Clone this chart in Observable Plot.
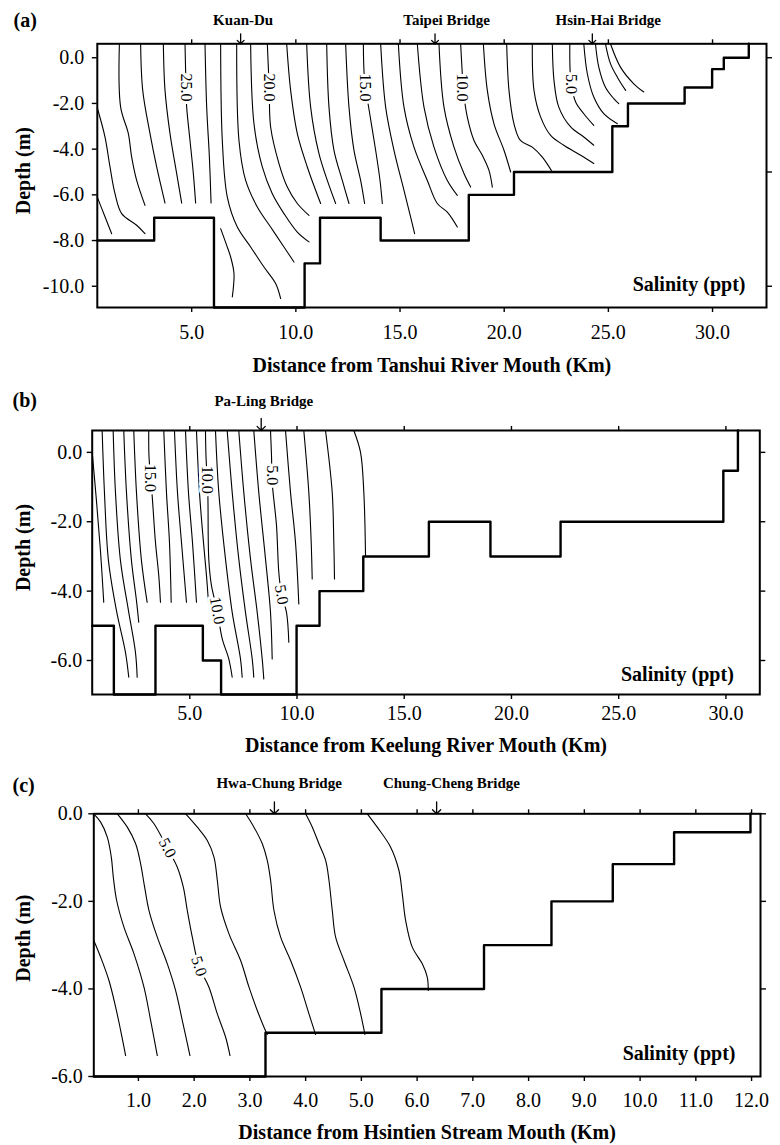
<!DOCTYPE html>
<html>
<head>
<meta charset="utf-8">
<script src="https://cdn.jsdelivr.net/npm/d3@7"></script>
<script src="https://cdn.jsdelivr.net/npm/@observablehq/plot@0.6"></script>
<style>
  html, body { margin: 0; padding: 0; background: #fff; }
  #fig { position: relative; width: 780px; height: 1145px; background: #fff; }
  #fig svg { position: absolute; left: 0; overflow: visible; }
</style>
</head>
<body>
<div id="fig"></div>
<script>
const SERIF = "'Liberation Serif', 'Times New Roman', Times, serif";

// ---------- (a) Tanshui River ----------
// Bed profile: station boundaries (km) and the depth (m) of each reach; null = deeper than the section floor
const tanshuiBedKm    = [0.47, 3.2, 6.07, 10.42, 11.16, 14.07, 18.3, 20.47, 25.19, 25.94, 28.66, 29.98, 30.54, 31.74];
const tanshuiBedDepth = [-8, -7, null, -9, -7, -8, -6, -5, -3, -2, -1.3, -0.5, 0.0];
// Isohalines, [km, depth m] pairs, one list per contour (30 ppt at the mouth down to 1 ppt)
const tanshuiContours = [
  [[0.47,-6.1],[0.83,-6.94],[1.16,-7.7]],
  [[0.47,-2.2],[0.84,-3.47],[1.08,-4.78],[1.32,-5.95],[1.64,-6.82],[2.36,-7.33],[2.76,-7.7]],
  [[1.53,0.61],[1.59,-2.16],[1.96,-3.32],[2.12,-4.35],[2.36,-5.37],[2.76,-6.46]],
  [[2.55,0.61],[2.65,-1.43],[3.0,-3.32],[3.32,-4.78],[3.72,-6.36]],
  [[3.64,0.61],[3.72,-1.43],[3.96,-3.32],[4.28,-5.07],[4.52,-6.36]],
  [[4.68,0.61],[4.72,-1.0],[4.76,-2.16],[4.92,-3.62],[5.08,-5.07],[5.19,-6.36]],
  [[5.64,0.61],[5.72,-2.16],[5.85,-4.35],[5.93,-6.36]],
  [[6.39,0.61],[6.47,-3.62],[6.71,-6.1],[7.19,-7.41],[7.83,-8.28],[8.47,-9.16],[9.03,-9.88],[9.27,-10.54]],
  [[6.39,-7.48],[6.68,-8.21],[6.87,-8.72],[7.03,-9.44],[6.95,-10.47]],
  [[7.16,0.61],[7.27,-3.62],[7.59,-5.37],[8.15,-6.53],[8.79,-7.41],[9.43,-8.28],[9.91,-8.94]],
  [[7.83,0.61],[7.99,-2.89],[8.39,-4.78],[8.87,-5.95],[9.43,-6.82],[10.07,-7.63],[10.63,-8.06]],
  [[8.63,0.61],[8.72,-1.3],[8.79,-3.03],[9.19,-4.63],[9.59,-5.66],[10.07,-6.38],[10.63,-6.9]],
  [[9.56,0.61],[9.75,-1.43],[10.07,-3.32],[10.55,-4.78],[10.95,-5.8],[11.19,-6.38]],
  [[10.52,0.61],[10.71,-2.16],[11.11,-4.2],[11.51,-5.37],[11.91,-6.38]],
  [[11.48,0.61],[11.59,-2.16],[11.83,-4.05],[12.23,-5.37],[12.55,-6.38]],
  [[12.39,0.61],[12.55,-2.16],[12.79,-4.05],[13.11,-5.37],[13.3,-6.38]],
  [[13.24,0.61],[13.3,-1.0],[13.5,-2.2],[13.83,-4.05],[14.04,-5.37],[14.15,-6.38]],
  [[14.07,0.61],[14.31,-2.16],[14.71,-4.05],[15.19,-5.8],[15.51,-6.97],[15.7,-7.7]],
  [[14.92,0.61],[15.19,-2.16],[15.67,-3.91],[16.31,-5.37],[16.79,-6.38],[17.27,-6.76],[17.75,-7.41]],
  [[15.83,0.61],[16.15,-2.16],[16.63,-3.91],[17.27,-5.37],[17.75,-6.02]],
  [[16.87,0.61],[17.11,-2.16],[17.59,-3.91],[18.07,-5.07],[18.39,-5.66]],
  [[17.91,0.61],[17.98,-0.56],[18.05,-1.5],[18.23,-2.6],[18.55,-3.62],[18.95,-4.27],[19.27,-4.93],[19.43,-5.66]],
  [[19.0,0.61],[19.19,-1.43],[19.51,-2.89],[19.99,-4.05],[20.31,-5.0]],
  [[20.12,0.61],[20.23,-1.43],[20.47,-2.89],[20.78,-3.62],[21.35,-3.91],[21.83,-4.35],[22.31,-5.0]],
  [[21.35,0.61],[21.43,-1.43],[21.75,-2.6],[22.23,-3.4],[22.86,-3.83],[23.67,-4.27],[24.3,-4.63]],
  [[22.31,0.61],[22.39,-0.99],[22.62,-2.16],[23.19,-3.03],[23.82,-3.47],[24.3,-3.83]],
  [[23.15,0.61],[23.2,-1.0],[23.43,-1.94],[23.82,-2.45],[24.3,-2.96]],
  [[23.82,0.61],[23.99,-0.7],[24.3,-1.72],[24.78,-2.45],[25.43,-2.89]],
  [[24.38,0.61],[24.54,-0.41],[24.86,-1.29],[25.26,-1.79],[25.5,-2.01]],
  [[24.86,0.61],[25.1,-0.26],[25.43,-0.85],[25.83,-1.43]],
  [[25.1,0.61],[25.58,-0.41],[26.22,-1.14],[26.7,-1.5]]
];
const tanshuiLabels = [
  {text: "25.0", km: 4.73, depth: -1.3, angle: 90},
  {text: "20.0", km: 8.72, depth: -1.3, angle: 90},
  {text: "15.0", km: 13.32, depth: -1.3, angle: 90},
  {text: "10.0", km: 18.0, depth: -1.3, angle: 90},
  {text: "5.0", km: 23.2, depth: -1.15, angle: 90}
];
const tanshuiBridges = [
  {name: "Kuan-Du", km: 7.35},
  {name: "Taipei Bridge", km: 16.68},
  {name: "Hsin-Hai Bridge", km: 24.23}
];
const tanshuiXTicks = [5, 10, 15, 20, 25, 30];
const tanshuiYTicks = [0, -2, -4, -6, -8, -10];
const tanshuiYRightTicks = [0, -5, -10];

// ---------- (b) Keelung River ----------
const keelungBedKm    = [0.45, 1.46, 3.4, 5.61, 6.46, 9.98, 11.05, 13.09, 16.15, 19.02, 22.29, 29.88, 30.56];
const keelungBedDepth = [-5, null, -5, -6, null, -5, -4, -3, -2, -3, -2, -0.53];
const keelungContours = [
  [[0.45,0.0],[0.648,-1.392],[0.835,-2.833],[0.989,-4.323]],
  [[0.914,0.63],[1.021,-1.153],[1.208,-3.121],[1.581,-4.562],[2.001,-5.764],[2.155,-6.484]],
  [[1.427,0.63],[1.535,-1.153],[1.768,-3.121],[2.141,-4.562],[2.467,-5.764],[2.547,-6.484]],
  [[1.922,0.63],[2.048,-1.153],[2.281,-3.121],[2.514,-4.275],[2.621,-4.899]],
  [[2.388,0.63],[2.514,-1.153],[2.747,-3.121],[3.013,-4.323]],
  [[3.088,0.63],[3.097,-0.095],[3.246,-1.248],[3.4,-2.594],[3.554,-3.553],[3.633,-4.323]],
  [[3.787,0.63],[3.913,-1.153],[4.053,-2.594],[4.133,-4.323]],
  [[4.286,0.63],[4.426,-1.153],[4.613,-2.594],[4.846,-4.323]],
  [[4.8,0.63],[4.939,-1.153],[5.126,-2.594],[5.312,-4.323]],
  [[5.312,0.63],[5.452,-1.153],[5.639,-2.594],[5.779,-3.553],[5.872,-4.323]],
  [[5.732,0.63],[5.756,-0.095],[5.84,-1.153],[5.886,-3.072],[6.012,-3.841],[6.28,-4.562],[6.511,-5.369],[6.819,-5.954],[6.978,-6.484]],
  [[6.199,0.63],[6.353,-1.153],[6.665,-3.072],[6.978,-4.611],[7.365,-5.954],[7.444,-6.484]],
  [[6.744,0.63],[6.978,-1.153],[7.285,-3.072],[7.598,-4.611],[7.911,-5.954],[7.985,-6.484]],
  [[7.285,0.63],[7.519,-1.153],[7.831,-3.072],[8.144,-4.611],[8.377,-5.954],[8.451,-6.53]],
  [[7.985,0.63],[8.218,-1.153],[8.531,-3.072],[8.764,-4.611],[8.843,-5.954]],
  [[8.764,0.63],[8.811,-0.095],[8.843,-0.865],[9.044,-2.112],[9.151,-3.458],[9.28,-4.1],[9.51,-4.611],[9.618,-5.476]],
  [[9.464,0.63],[9.697,-1.153],[9.93,-2.594],[10.084,-4.369]],
  [[10.317,0.63],[10.551,-1.153],[10.662,-2.594],[10.709,-3.648]],
  [[11.329,0.63],[11.642,-1.153],[11.716,-2.594],[11.749,-3.648]],
  [[12.649,0.63],[12.962,0.0],[13.116,-1.153],[13.195,-2.977]]
];
const keelungLabels = [
  {text: "15.0", km: 3.15, depth: -0.74, angle: 90},
  {text: "10.0", km: 5.8, depth: -0.79, angle: 90},
  {text: "5.0", km: 8.83, depth: -0.66, angle: 90},
  {text: "10.0", km: 6.28, depth: -4.56, angle: 80},
  {text: "5.0", km: 9.28, depth: -4.1, angle: 80}
];
const keelungBridges = [{name: "Pa-Ling Bridge", km: 8.33}];
const keelungXTicks = [5, 10, 15, 20, 25, 30];
const keelungYTicks = [0, -2, -4, -6];

// ---------- (c) Hsintien Stream ----------
const hsintienBedKm    = [0.2, 3.28, 5.36, 7.2, 8.41, 9.51, 10.61, 11.98];
const hsintienBedDepth = [null, -5, -4, -3, -2, -1.15, -0.42];
const hsintienContours = [
  [[0.2,-2.894],[0.323,-3.275],[0.472,-3.808],[0.592,-4.417],[0.682,-4.951],[0.771,-5.522]],
  [[0.2,0],[0.323,-0.19],[0.442,-0.533],[0.514,-0.99],[0.55,-1.447],[0.61,-1.98],[0.741,-2.589],[0.921,-3.199],[1.1,-3.96],[1.22,-4.722],[1.339,-5.522]],
  [[0.622,0],[0.801,-0.305],[0.951,-0.685],[1.04,-1.142],[1.112,-1.676],[1.19,-2.209],[1.339,-2.818],[1.519,-3.427],[1.668,-4.037],[1.788,-4.722],[1.925,-5.522]],
  [[1.13,0],[1.28,-0.228],[1.519,-0.777],[1.698,-1.219],[1.806,-1.676],[1.877,-2.209],[1.967,-2.818],[2.087,-3.481],[2.266,-3.96],[2.416,-4.57],[2.565,-5.103],[2.643,-5.522]],
  [[1.848,0],[2.057,-0.305],[2.236,-0.609],[2.356,-0.99],[2.416,-1.523],[2.475,-2.133],[2.625,-2.742],[2.834,-3.351],[2.984,-3.96],[3.133,-4.494],[3.253,-4.874],[3.312,-5.042]],
  [[2.924,0],[3.073,-0.305],[3.223,-0.685],[3.312,-1.066],[3.372,-1.523],[3.432,-2.209],[3.552,-2.818],[3.731,-3.351],[3.91,-3.96],[4.06,-4.57],[4.179,-5.042]],
  [[4.0,0],[4.12,-0.305],[4.239,-0.685],[4.359,-1.066],[4.419,-1.523],[4.478,-2.209],[4.538,-2.818],[4.688,-3.351],[4.867,-3.96],[4.987,-4.57],[5.064,-5.042]],
  [[5.106,0],[5.285,-0.305],[5.525,-0.762],[5.674,-1.295],[5.734,-1.828],[5.794,-2.437],[5.913,-3.046],[6.093,-3.427],[6.182,-3.732],[6.2,-4.037]]
];
const hsintienLabels = [
  {text: "5.0", km: 1.52, depth: -0.78, angle: 62},
  {text: "5.0", km: 2.087, depth: -3.48, angle: 72}
];
const hsintienBridges = [
  {name: "Hwa-Chung Bridge", km: 3.44},
  {name: "Chung-Cheng Bridge", km: 6.35}
];
const hsintienXTicks = [1, 2, 3, 4, 5, 6, 7, 8, 9, 10, 11, 12];
const hsintienYTicks = [0, -2, -4, -6];
const hsintienYRightTicks = [0, -2, -4];

// ---------- drawing ----------
const fmt = d => d.toFixed(1);
const blank = () => "";

function section(s) {
  const [ymin, ymax] = s.yDomain;
  const rows = s.contours.flatMap((pts, i) => pts.map(([km, depth]) => ({km, depth, id: i})));
  const bed = s.bedKm.map((km, i) => ({
    km,
    depth: i < s.bedDepth.length ? (s.bedDepth[i] ?? ymin) : ymax
  }));
  const svg = Plot.plot({
    width: 780,
    height: s.height,
    marginTop: s.m[0], marginRight: s.m[1], marginBottom: s.m[2], marginLeft: s.m[3],
    x: {domain: s.xDomain, label: null},
    y: {domain: s.yDomain, label: null},
    style: {fontFamily: SERIF, background: "transparent", color: "black", overflow: "visible"},
    marks: [
      // isohalines
      Plot.line(rows, {x: "km", y: "depth", z: "id", curve: "catmull-rom", stroke: "black", strokeWidth: 1.1}),
      // contour values, haloed so the line breaks around them
      Plot.text(s.labels, {
        x: "km", y: "depth", text: "text", rotate: "angle",
        fontSize: 16, fill: "black", stroke: "white", strokeWidth: 6, paintOrder: "stroke"
      }),
      // river bed
      Plot.line(bed, {x: "km", y: "depth", curve: "step-after", stroke: "black", strokeWidth: 2.4}),
      Plot.frame({stroke: "black", strokeWidth: 2}),
      // axes
      Plot.axisX({anchor: "bottom", ticks: s.xTicks, tickFormat: fmt, tickSize: 5, tickPadding: s.xPad,
        fontSize: 20, label: null, strokeWidth: 1.4}),
      Plot.axisX({anchor: "top", ticks: s.xTicks, tickFormat: blank, tickSize: 5, label: null, strokeWidth: 1.4}),
      Plot.axisY({anchor: "left", ticks: s.yTicks, tickFormat: fmt, tickSize: 5, tickPadding: s.yPad,
        fontSize: 20, label: null, strokeWidth: 1.4}),
      Plot.axisY({anchor: "right", ticks: s.yRightTicks, tickFormat: blank, tickSize: 5, label: null, strokeWidth: 1.4}),
      // axis titles and panel notes
      Plot.text([s.xTitle], {text: d => d, frameAnchor: "bottom", dy: s.xTitleDy, textAnchor: "middle",
        lineAnchor: "middle", fontSize: 20, fontWeight: "bold"}),
      Plot.text(["Depth (m)"], {text: d => d, frameAnchor: "left", dx: s.yTitleDx, dy: s.yTitleDy, rotate: -90,
        textAnchor: "middle", lineAnchor: "middle", fontSize: 20, fontWeight: "bold"}),
      Plot.text(["Salinity (ppt)"], {text: d => d, frameAnchor: "bottom-right", dx: s.salDx, dy: s.salDy,
        textAnchor: "end", lineAnchor: "middle", fontSize: 20, fontWeight: "bold"}),
      Plot.text([s.letter], {text: d => d, frameAnchor: "top-left", dx: s.letterDx, dy: s.letterDy,
        textAnchor: "start", lineAnchor: "middle", fontSize: 20, fontWeight: "bold"}),
      // bridges: name above, small arrow down onto the water surface
      Plot.text(s.bridges, {x: "km", text: "name", frameAnchor: "top", dy: s.bridgeDy,
        textAnchor: "middle", lineAnchor: "middle", fontSize: 15, fontWeight: "bold"}),
      Plot.vector(s.bridges, {x: "km", frameAnchor: "top", anchor: "end", rotate: 180, length: s.arrowLen,
        r: 6, stroke: "black", strokeWidth: 1.3})
    ]
  });
  // each bridge name sits a little right of its arrow, as typeset
  svg.querySelectorAll("text").forEach(t => {
    const shift = s.nameShift[t.textContent];
    if (shift === undefined) return;
    const cur = t.getAttribute("x");
    if (cur !== null) t.setAttribute("x", +cur + shift);
    else t.setAttribute("transform", `translate(${shift},0) ` + (t.getAttribute("transform") || ""));
  });
  svg.style.top = s.top + "px";
  return svg;
}

const fig = document.getElementById("fig");

fig.appendChild(section({
  top: 0, height: 380, m: [43.3, 14, 73, 96.8],
  xDomain: [0.47, 32.59], yDomain: [-10.93, 0.61],
  xTicks: tanshuiXTicks, yTicks: tanshuiYTicks, yRightTicks: tanshuiYRightTicks,
  bedKm: tanshuiBedKm, bedDepth: tanshuiBedDepth,
  contours: tanshuiContours, labels: tanshuiLabels, bridges: tanshuiBridges,
  nameShift: {"Kuan-Du": 2.5, "Taipei Bridge": 11.5, "Hsin-Hai Bridge": 16},
  xPad: 12, yPad: 8,
  xTitle: "Distance from Tanshui River Mouth (Km)", xTitleDy: 58,
  yTitleDx: -73.3, yTitleDy: -5,
  salDx: -21, salDy: -23.4,
  letter: "(a)", letterDx: -83.8, letterDy: -23.3,
  bridgeDy: -23.3, arrowLen: 10
}));

fig.appendChild(section({
  top: 380, height: 385, m: [50, 20.7, 71, 91.7],
  xDomain: [0.45, 31.58], yDomain: [-6.98, 0.63],
  xTicks: keelungXTicks, yTicks: keelungYTicks, yRightTicks: keelungYTicks,
  bedKm: keelungBedKm, bedDepth: keelungBedDepth,
  contours: keelungContours, labels: keelungLabels, bridges: keelungBridges,
  nameShift: {"Pa-Ling Bridge": 2.6},
  xPad: 6, yPad: 5,
  xTitle: "Distance from Keelung River Mouth (Km)", xTitleDy: 51,
  yTitleDx: -68.2, yTitleDy: -15,
  salDx: -26, salDy: -20.4,
  letter: "(b)", letterDx: -79.7, letterDy: -30,
  bridgeDy: -29, arrowLen: 12
}));

fig.appendChild(section({
  top: 765, height: 380, m: [48.3, 20, 69, 93.3],
  xDomain: [0.2, 12.16], yDomain: [-6, 0],
  xTicks: hsintienXTicks, yTicks: hsintienYTicks, yRightTicks: hsintienYRightTicks,
  bedKm: hsintienBedKm, bedDepth: hsintienBedDepth,
  contours: hsintienContours, labels: hsintienLabels, bridges: hsintienBridges,
  nameShift: {"Hwa-Chung Bridge": 4.7, "Chung-Cheng Bridge": 14.8},
  xPad: 11, yPad: 6,
  xTitle: "Distance from Hsintien Stream Mouth (Km)", xTitleDy: 55.8,
  yTitleDx: -69.8, yTitleDy: -7,
  salDx: -25, salDy: -22.5,
  letter: "(c)", letterDx: -81.3, letterDy: -27.8,
  bridgeDy: -30.3, arrowLen: 12
}));
</script>
</body>
</html>
